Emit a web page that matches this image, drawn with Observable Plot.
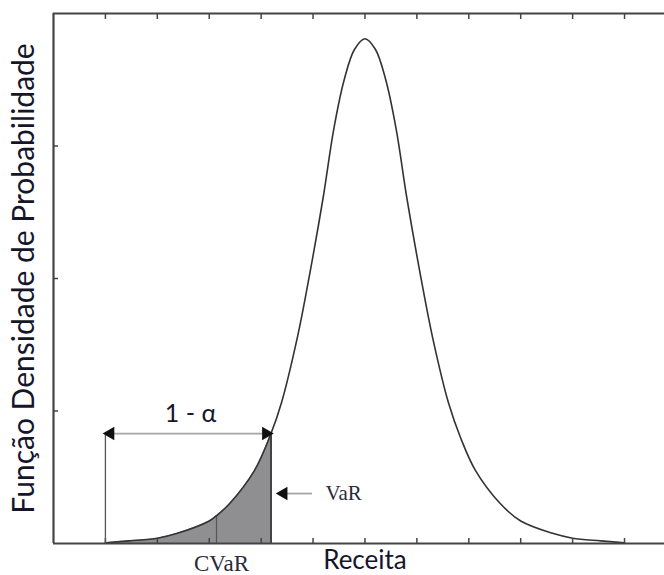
<!DOCTYPE html>
<html>
<head>
<meta charset="utf-8">
<script src="https://cdn.jsdelivr.net/npm/d3@7"></script>
<script src="https://cdn.jsdelivr.net/npm/@observablehq/plot@0.6"></script>
<style>
  html, body { margin: 0; padding: 0; background: #fff; }
  #chart svg { display: block; }
</style>
</head>
<body>
<div id="chart"></div>
<script>
// Receita (x) and density (y)
const receita = [1.0, 1.46, 2.0, 2.37, 3.0, 3.14, 3.39, 3.87, 4.19, 4.39, 4.70, 4.91, 5.19, 5.40, 5.60, 5.80, 6.0, 6.20, 6.40, 6.60, 6.81, 7.09, 7.30, 7.61, 7.84, 8.13, 8.61, 9.0, 9.63, 10.0, 10.54, 11.0];
const densidade = [0.005, 0.02, 0.04, 0.075, 0.17, 0.21, 0.30, 0.55, 0.83, 1.06, 1.56, 1.98, 2.60, 3.13, 3.50, 3.73, 3.81, 3.73, 3.50, 3.13, 2.60, 1.98, 1.56, 1.06, 0.80, 0.55, 0.30, 0.17, 0.075, 0.04, 0.02, 0.005];
const xTicks = [1, 2, 3, 4, 5, 6, 7, 8, 9, 10, 11];
const yTicks = [1, 2, 3];
const varX = 4.19;
const cvarX = 3.14;
const tailStart = 1.0;
const xLabel = "Receita";
const yLabel = "Função Densidade de Probabilidade";
const alphaLabel = "1 - α";
const varLabel = "VaR";
const cvarLabel = "CVaR";

const data = receita.map((x, i) => ({x, y: densidade[i]}));
const tail = data.filter(d => d.x <= varX);
const varY = data.find(d => d.x === varX).y;
const cvarY = data.find(d => d.x === cvarX).y;

const curve = "catmull-rom";
const ink = "#16162a";
const sans = "Lato, 'Open Sans', sans-serif";
const serif = "'Liberation Serif', 'DejaVu Serif', serif";
const triR = 5;

const chart = Plot.plot({
  width: 664,
  height: 575,
  marginLeft: 53,
  marginTop: 13,
  marginBottom: 32,
  marginRight: 0,
  x: {domain: [0, 11.77]},
  y: {domain: [0, 4]},
  marks: [
    // shaded tail
    Plot.areaY(tail, {x: "x", y: "y", fill: "#8f8f91", curve}),
    Plot.ruleX([cvarX], {y1: 0, y2: cvarY, stroke: "#555", strokeWidth: 1.2}),
    Plot.ruleX([varX], {y1: 0, y2: varY, stroke: "#444", strokeWidth: 2}),
    // density curve
    Plot.line(data, {x: "x", y: "y", stroke: "#333", strokeWidth: 1.6, curve}),
    // frame (no right side, as in the reference)
    Plot.ruleY([0], {stroke: "#444", strokeWidth: 2.2}),
    Plot.ruleY([4], {stroke: "#444", strokeWidth: 2.2}),
    Plot.ruleX([0], {stroke: "#444", strokeWidth: 2.2}),
    Plot.axisX({anchor: "bottom", ticks: xTicks, tickSize: -5, tickFormat: () => "", label: null, stroke: "#444", strokeWidth: 1.5}),
    Plot.axisX({anchor: "top", ticks: xTicks, tickSize: -5, tickFormat: () => "", label: null, stroke: "#444", strokeWidth: 1.5}),
    Plot.axisY({anchor: "left", ticks: yTicks, tickSize: -5, tickFormat: () => "", label: null, stroke: "#444", strokeWidth: 1.5}),
    // 1 - alpha dimension
    Plot.ruleX([tailStart], {y1: 0, y2: varY, stroke: "#555", strokeWidth: 1.3}),
    Plot.ruleY([varY], {x1: tailStart, x2: varX, stroke: "#a5a5a5", strokeWidth: 1.8}),
    Plot.dot([tailStart], {x: d => d, y: varY, symbol: "triangle", r: triR, rotate: -90, fill: "#111", stroke: null, dx: 5}),
    Plot.dot([varX], {x: d => d, y: varY, symbol: "triangle", r: triR, rotate: 90, fill: "#111", stroke: null, dx: -5}),
    Plot.text([alphaLabel], {x: 2.64, y: varY, dy: -20, text: d => d, fontSize: 25, fontFamily: sans, fill: ink}),
    // VaR pointer
    Plot.ruleY([0.377], {x1: 4.40, x2: 4.99, stroke: "#a5a5a5", strokeWidth: 1.8}),
    Plot.dot([4.335], {x: d => d, y: 0.377, symbol: "triangle", r: triR, rotate: -90, fill: "#111", stroke: null, dx: 5}),
    Plot.text([varLabel], {x: 4.99, y: 0.377, dx: 13, text: d => d, textAnchor: "start", fontSize: 21, fontFamily: serif, fill: "#2a2a3a"}),
    // labels
    Plot.text([cvarLabel], {x: cvarX, y: 0, dx: 5, dy: 20, text: d => d, fontSize: 23, fontFamily: serif, fill: "#2a2a3a"}),
    Plot.text([xLabel], {x: 6, y: 0, dy: 17, text: d => d, fontSize: 26, fontFamily: sans, fill: ink}),
    Plot.text([yLabel], {y: 2, frameAnchor: "left", textAnchor: "middle", dx: -29, rotate: -90, text: d => d, fontSize: 30, fontFamily: sans, fill: ink})
  ]
});
document.getElementById("chart").appendChild(chart);
</script>
</body>
</html>
